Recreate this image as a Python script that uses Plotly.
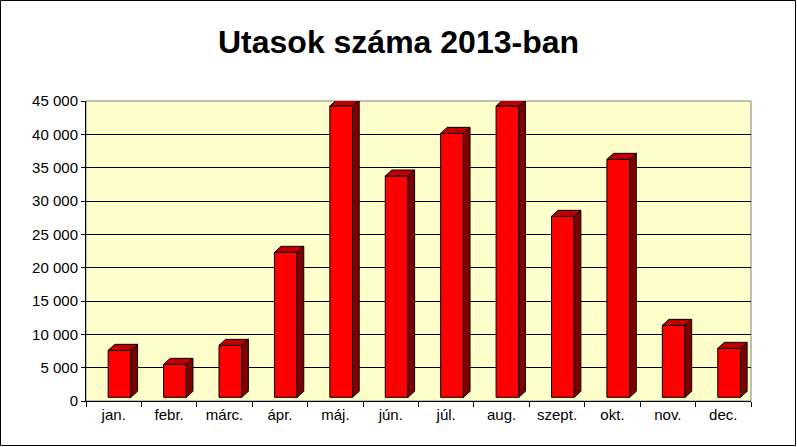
import plotly.graph_objects as go

# Havi utasszám 2013-ban
months = ["jan.", "febr.", "márc.", "ápr.", "máj.", "jún.",
          "júl.", "aug.", "szept.", "okt.", "nov.", "dec."]
passengers = [7600, 5500, 8350, 22300, 44250, 33750,
              40150, 44250, 27700, 36250, 11350, 7900]
y_ticks = [0, 5000, 10000, 15000, 20000, 25000, 30000, 35000, 40000, 45000]

# --- 3D hatás paraméterei ---
BASE = 550        # az oszlop előlapja kicsit a tengely felett kezdődik
OFFSET = -0.10    # előlap eltolása a kategória közepéhez képest
WIDTH = 0.41
DX = 0.12         # mélység vízszintesen (kategória egységben)
DY = 900          # mélység függőlegesen (érték egységben)

FRONT = "#FF0000"
TOP = "#C00000"
SIDE = "#800000"

xs = list(range(len(months)))

fig = go.Figure()

fig.add_trace(go.Bar(
    x=xs,
    y=[v - BASE for v in passengers],
    base=[BASE] * len(passengers),
    width=WIDTH,
    offset=OFFSET,
    marker=dict(color=FRONT, line=dict(color="black", width=1)),
    hoverinfo="skip",
))

# --- oldal- és tetőlapok ---
for x, v in zip(xs, passengers):
    x0 = x + OFFSET
    x1 = x0 + WIDTH
    side = (f"M {x1},{BASE} L {x1},{v} L {x1 + DX},{v + DY} "
            f"L {x1 + DX},{BASE + DY} Z")
    top = (f"M {x0},{v} L {x0 + DX},{v + DY} L {x1 + DX},{v + DY} "
           f"L {x1},{v} Z")
    fig.add_shape(type="path", path=side, xref="x", yref="y",
                  fillcolor=SIDE, line=dict(color="black", width=1))
    fig.add_shape(type="path", path=top, xref="x", yref="y",
                  fillcolor=TOP, line=dict(color="black", width=1))

# --- rajzterület kerete (felül, jobbra szürke) ---
fig.add_shape(type="rect", xref="paper", yref="paper", x0=0, y0=0, x1=1, y1=1,
              line=dict(color="#808080", width=1), layer="below")

# --- külső fekete keret ---
W, H = 797, 447
L, R, T, B = 86, 46, 101, 46
pw, ph = W - L - R, H - T - B
fig.add_shape(type="rect", xref="paper", yref="paper",
              x0=-(L - 0.5) / pw, x1=1 + (R - 1.5) / pw,
              y0=-(B - 1.5) / ph, y1=1 + (T - 0.5) / ph,
              line=dict(color="black", width=1), layer="below")

fig.update_layout(
    width=W, height=H,
    margin=dict(l=L, r=R, t=T, b=B, autoexpand=False),
    paper_bgcolor="white",
    plot_bgcolor="#FFFFCC",
    showlegend=False,
    separators=", ",
    font=dict(family="Arial, Liberation Sans, sans-serif", size=15, color="black"),
    title=dict(
        text="<b>Utasok száma 2013-ban</b>",
        x=0.5, xref="container", xanchor="center",
        y=1 - 42 / H, yref="container", yanchor="middle",
        font=dict(size=32, color="black"),
    ),
    xaxis=dict(
        range=[-0.5, 11.5], automargin=False,
        tickmode="array", tickvals=xs, ticktext=months,
        ticks="", showgrid=False, zeroline=False,
        showline=True, linecolor="black", linewidth=1,
        minor=dict(tickmode="linear", tick0=-0.5, dtick=1, ticks="outside",
                   ticklen=5, tickcolor="black", showgrid=False),
    ),
    yaxis=dict(
        range=[0, 45000], automargin=False,
        tickmode="array", tickvals=y_ticks, tickformat=",d",
        ticks="outside", ticklen=4, tickcolor="black",
        showgrid=True, gridcolor="black", gridwidth=1,
        zeroline=False,
        showline=True, linecolor="black", linewidth=1,
    ),
)

# a böngésző alapértelmezett 8px-es margója nélkül
fig.write_html("out.html", config={"displayModeBar": False},
               post_script="document.body.style.margin='0';")
